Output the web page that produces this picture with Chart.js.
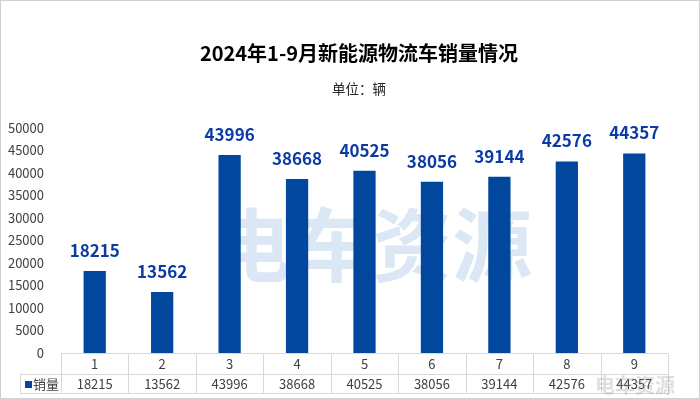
<!DOCTYPE html>
<html>
<head>
<meta charset="utf-8">
<script src="https://cdn.jsdelivr.net/npm/chart.js@4/dist/chart.umd.min.js"></script>
<style>
  html, body { margin: 0; padding: 0; background: #ffffff; }
  #box { width: 700px; height: 399px; }
</style>
</head>
<body>
<div id="box"><canvas id="sales_chart" width="700" height="399"></canvas></div>
<script>
var chart_title = '2024年1-9月新能源物流车销量情况';
var chart_unit = '单位：辆';
var series_name = '销量';
var months = ['1', '2', '3', '4', '5', '6', '7', '8', '9'];
var sales = [18215, 13562, 43996, 38668, 40525, 38056, 39144, 42576, 44357];
var y_max = 50000;
var y_step = 5000;

var font_family = '"Noto Sans CJK SC", "Noto Sans", sans-serif';
var bar_color = '#00479D';
var label_color = '#0A3AA6';
var text_color = '#404040';
var line_color = '#D9D9D9';

// titles, watermark, value labels and the data table under the axis
var extras = {
    id: 'extras',
    beforeDatasetsDraw: function(chart){
        var ctx = chart.ctx;
        ctx.save();
        ctx.font = 'bold 80px ' + font_family;
        ctx.fillStyle = 'rgba(175,202,230,0.45)';
        ctx.textAlign = 'center';
        ctx.textBaseline = 'middle';
        ctx.fillText('电车资源', 372, 245);
        ctx.restore();
    },
    afterDraw: function(chart){
        var ctx = chart.ctx;
        var xs = chart.scales.x;
        var area = chart.chartArea;
        ctx.save();

        // titles
        ctx.textAlign = 'center';
        ctx.textBaseline = 'middle';
        ctx.fillStyle = '#000000';
        ctx.font = 'bold 20px ' + font_family;
        ctx.fillText(chart_title, 359, 53);
        ctx.font = '13.5px ' + font_family;
        ctx.fillStyle = '#262626';
        ctx.fillText(chart_unit, 359, 89);

        // value labels above bars
        var meta = chart.getDatasetMeta(0);
        ctx.font = 'bold 17px ' + font_family;
        ctx.fillStyle = label_color;
        ctx.textBaseline = 'alphabetic';
        meta.data.forEach(function(bar, i){
            ctx.fillText(String(sales[i]), bar.x, bar.y - 14);
        });

        // data table
        var col_w = (area.right - area.left) / months.length;
        var row1 = area.bottom + 0.5;
        var row2 = row1 + 21;
        var row3 = row2 + 19;
        var legend_left = 20.5;
        ctx.strokeStyle = line_color;
        ctx.lineWidth = 1;
        ctx.beginPath();
        ctx.moveTo(area.left, row1); ctx.lineTo(area.right, row1);
        ctx.moveTo(legend_left, row2); ctx.lineTo(area.right, row2);
        ctx.moveTo(legend_left, row3); ctx.lineTo(area.right, row3);
        ctx.moveTo(legend_left, row2); ctx.lineTo(legend_left, row3);
        for(var c=0; c<=months.length; c++){
            var lx = Math.round(area.left + c*col_w) + 0.5;
            ctx.moveTo(lx, row1); ctx.lineTo(lx, row3);
        }
        ctx.stroke();

        ctx.font = '13px ' + font_family;
        ctx.fillStyle = text_color;
        ctx.textAlign = 'center';
        ctx.textBaseline = 'middle';
        for(var m=0; m<months.length; m++){
            var cx = xs.getPixelForValue(m);
            ctx.fillText(months[m], cx, (row1 + row2)/2 + 0.5);
            ctx.fillText(String(sales[m]), cx, (row2 + row3)/2 + 0.5);
        }
        ctx.fillStyle = bar_color;
        ctx.fillRect(25, 381, 7, 7);
        ctx.fillStyle = text_color;
        ctx.textAlign = 'left';
        ctx.fillText(series_name, 33, (row2 + row3)/2 + 0.5);

        // small watermark, bottom right
        ctx.font = 'bold 20px ' + font_family;
        ctx.fillStyle = 'rgba(140,140,140,0.28)';
        ctx.fillText('电车资源', 595, 385);

        // outer frame
        ctx.strokeStyle = '#D0D0D0';
        ctx.strokeRect(0.5, 0.5, chart.width - 1, chart.height - 1);
        ctx.restore();
    }
};

var chart = new Chart(document.getElementById('sales_chart').getContext('2d'), {
    type: 'bar',
    data: {
        labels: months,
        datasets: [{
            label: series_name,
            data: sales,
            backgroundColor: bar_color,
            borderWidth: 0,
            barPercentage: 0.33,
            categoryPercentage: 1.0
        }]
    },
    options: {
        responsive: false,
        animation: false,
        devicePixelRatio: 1,
        layout: {
            padding: {top: 128, right: 32, bottom: 46, left: 0}
        },
        scales: {
            x: {
                display: false
            },
            y: {
                min: 0,
                max: y_max,
                afterFit: function(scale){ scale.width = 61; },
                ticks: {
                    stepSize: y_step,
                    color: text_color,
                    padding: 9,
                    font: {family: font_family, size: 13},
                    callback: function(value){ return String(value); }
                },
                grid: {display: false},
                border: {display: false}
            }
        },
        plugins: {
            legend: {display: false},
            tooltip: {enabled: false}
        }
    },
    plugins: [extras]
});
</script>
</body>
</html>
